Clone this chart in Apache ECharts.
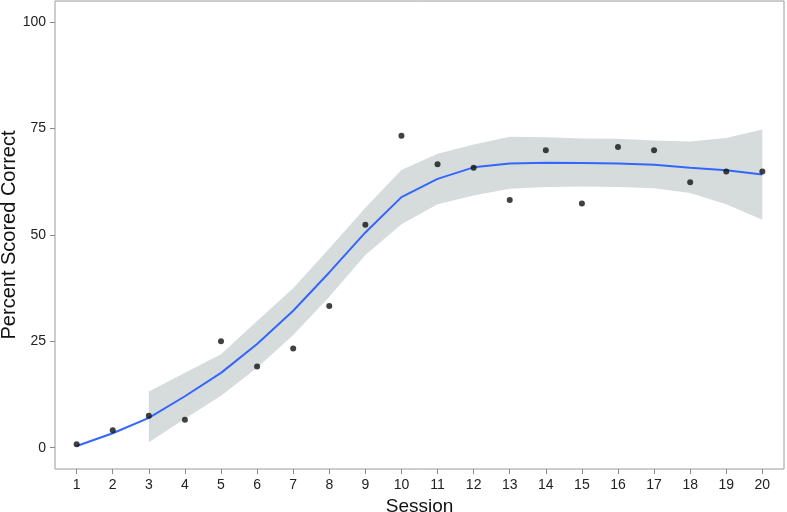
<!DOCTYPE html>
<html>
<head>
<meta charset="utf-8">
<script src="https://cdn.jsdelivr.net/npm/echarts@6/dist/echarts.min.js"></script>
<style>html,body{margin:0;padding:0;background:#fff}#c{width:787px;height:512px}</style>
</head>
<body>
<div id="c"></div>
<script>
const sessions = [1,2,3,4,5,6,7,8,9,10,11,12,13,14,15,16,17,18,19,20];
const observed = [0.8,4.1,7.5,6.6,25.0,19.1,23.3,33.3,52.4,73.3,66.6,65.8,58.2,69.9,57.4,70.7,69.9,62.4,64.9,64.9];
const fitted = [0.4,3.4,7.0,12.1,17.6,24.4,32.2,41.2,50.6,58.9,63.2,65.9,66.8,67.0,66.9,66.8,66.5,65.8,65.2,64.2];
const bandSessions = [3,4,5,6,7,8,9,10,11,12,13,14,15,16,17,18,19,20];
const bandLower = [1.3,6.8,12.2,18.8,26.5,35.5,45.3,52.5,57.2,59.3,60.9,61.3,61.4,61.3,61.0,59.9,57.2,53.6];
const bandUpper = [13.2,17.6,22.0,29.8,37.5,46.8,56.4,65.3,69.1,71.3,73.1,73.0,72.7,72.6,72.2,72.0,72.8,74.8];
const yTicks = [0,25,50,75,100];

const font = 'Liberation Sans, Arial, Helvetica, sans-serif';
const chart = echarts.init(document.getElementById('c'), null, {renderer:'canvas'});
const bandData = bandSessions.map((s,i)=>[s,bandLower[i],bandUpper[i]]);
chart.setOption({
  animation:false,
  backgroundColor:'#fff',
  grid:{left:55, top:1, right:3, bottom:43, outerBoundsMode:'none', containLabel:false, show:true, borderColor:'#9a9a9a', borderWidth:1, backgroundColor:'transparent'},
  xAxis:{
    type:'value', min:0.4, max:20.6,
    axisLine:{show:false, onZero:false},
    splitLine:{show:false},
    axisTick:{show:true, customValues:sessions, length:5, lineStyle:{color:'#8a8a8a'}},
    axisLabel:{customValues:sessions, fontSize:14, color:'#222', fontFamily:font, margin:9},
    name:'Session', nameLocation:'middle', nameGap:26,
    nameTextStyle:{fontSize:19, color:'#111', fontFamily:font}
  },
  yAxis:{
    type:'value', min:-5, max:105,
    axisLine:{show:false, onZero:false},
    splitLine:{show:false},
    axisTick:{show:true, customValues:yTicks, length:5, lineStyle:{color:'#8a8a8a'}},
    axisLabel:{customValues:yTicks, fontSize:14, color:'#222', fontFamily:font, margin:9},
    name:'Percent Scored Correct', nameLocation:'middle', nameGap:36, nameMoveOverlap:false,
    nameTextStyle:{fontSize:20, color:'#111', fontFamily:font}
  },
  series:[
    {type:'custom', silent:true, z:1, data:bandData,
      renderItem:function(params, api){
        if (params.dataIndex !== 0) return null;
        const top = bandData.map(d=>api.coord([d[0], d[2]]));
        const bot = bandData.map(d=>api.coord([d[0], d[1]])).reverse();
        return {type:'polygon', shape:{points:top.concat(bot)}, style:{fill:'#d6dcdc'}};
      }
    },
    {type:'line', data:sessions.map((s,i)=>[s,fitted[i]]), symbol:'none', lineStyle:{color:'#3366ff', width:2}, z:3},
    {type:'scatter', data:sessions.map((s,i)=>[s,observed[i]]), symbolSize:6, itemStyle:{color:'#111'}, z:4}
  ]
});
</script>
</body>
</html>
